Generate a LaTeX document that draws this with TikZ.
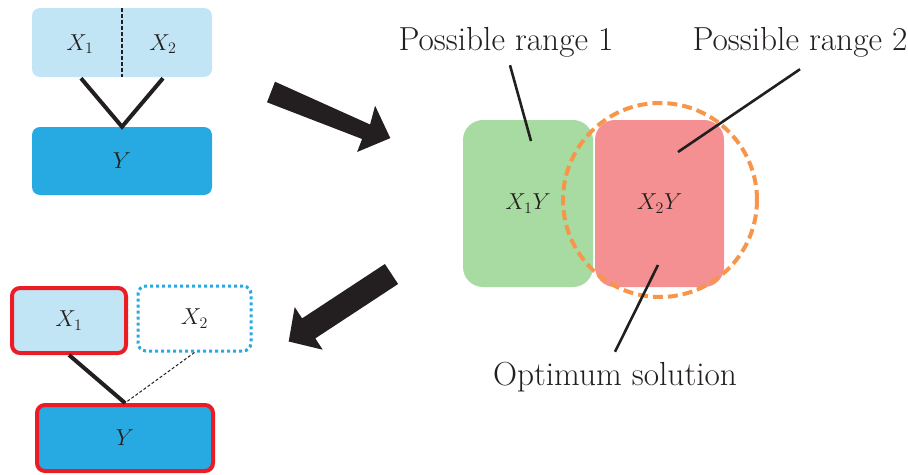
\documentclass[tikz,border=0pt]{standalone}
\usetikzlibrary{calc}
\newlength\px
\setlength\px{0.75pt}
\definecolor{lblue}{HTML}{C2E5F6}
\definecolor{dblue}{HTML}{27AAE1}
\definecolor{bred}{HTML}{EC1C24}
\definecolor{lgreen}{HTML}{A7DBA2}
\definecolor{lpink}{HTML}{F48F92}
\definecolor{orng}{HTML}{F7964A}
\definecolor{ink}{HTML}{231F20}
\tikzset{
  box/.style={rectangle, rounded corners=8\px, inner sep=0pt, font=\fontsize{17.28}{20}\selectfont, text=ink},
  lightbox/.style={box, fill=lblue},
  darkbox/.style={box, fill=dblue},
  redline/.style={draw=bred, line width=4\px},
  dotbox/.style={box, draw=dblue, line width=3\px, dash pattern=on 3\px off 3\px},
  bigbox/.style={rectangle, rounded corners=20\px, inner sep=0pt, font=\fontsize{17.28}{20}\selectfont, text=ink},
  lab/.style={font=\fontsize{17.28}{20}\selectfont, text=ink},
  link/.style={draw=ink, line width=4\px},
  leader/.style={draw=ink, line width=2.6\px},
  lbl/.style={font=\fontsize{25}{30}\selectfont, text=ink, inner sep=0pt},
  blockarrow/.style={fill=ink}
}
\begin{document}
\begin{tikzpicture}[x=0.75pt,y=-0.75pt]
\useasboundingbox (0,0) rectangle (908,475);
% top-left
\node[lightbox, minimum width=180\px, minimum height=69\px] (top) at (122,42.5) {};
\node[lab] (x1a) at (80,44) {$X_1$};
\node[lab] (x2a) at (163,44) {$X_2$};
\draw[ink, line width=1.5\px, dash pattern=on 4\px off 2\px] (top.north) -- (top.south);
\node[darkbox, minimum width=180\px, minimum height=68\px] (ya) at (122,161) {$Y$};
\draw[link] ([xshift=-41\px, yshift=-1\px]top.south) -- (ya.north) -- ([xshift=41\px, yshift=-1\px]top.south);
% bottom-left
\node[lightbox, redline, minimum width=114\px, minimum height=65\px] (x1b) at (69,320.5) {$X_1$};
\node[dotbox, minimum width=113\px, minimum height=65\px] (x2b) at (194.5,318.5) {$X_2$};
\node[darkbox, redline, minimum width=176\px, minimum height=66\px] (yb) at (125,438) {$Y$};
\draw[link] (x1b.south) -- (yb.north);
\draw[ink, line width=1\px, dash pattern=on 3\px off 2\px] (x2b.south) -- (yb.north);
% block arrows
\fill[blockarrow] (267,102.3) -- (362.1,139) -- (357.1,152) -- (390.3,138.1) -- (375.1,105.7) -- (370.1,124.5) -- (275,81.7) -- cycle;
\fill[blockarrow] (398.1,284) -- (315.3,338.4) -- (322.7,349.7) -- (288.7,341.5) -- (294.7,307.1) -- (302.1,318.4) -- (384.9,264) -- cycle;
% right
\node[bigbox, fill=lgreen, minimum width=130\px, minimum height=167\px] (g) at (528,203.5) {$X_1Y$};
\node[bigbox, fill=lpink, minimum width=129\px, minimum height=167\px] (p) at (659.5,203.5) {$X_2Y$};
\node[circle, draw=orng, line width=4\px, dash pattern=on 10\px off 5\px, minimum size=194\px, inner sep=0pt] (opt) at (660,200) {};
\node[lbl] (r1) at (506,42) {Possible range 1};
\node[lbl] (r2) at (800,42) {Possible range 2};
\node[lbl] (os) at (615,377) {Optimum solution};
\coordinate (r1e) at (531,141);
\coordinate (r2e) at (678,152);
\coordinate (ose) at (658,265);
\draw[leader] ([xshift=4\px, yshift=-8\px]r1.south) -- (r1e);
\draw[leader] ([yshift=-12\px]r2.south) -- (r2e);
\draw[leader] ([yshift=10\px]os.north) -- (ose);
\end{tikzpicture}
\end{document}
